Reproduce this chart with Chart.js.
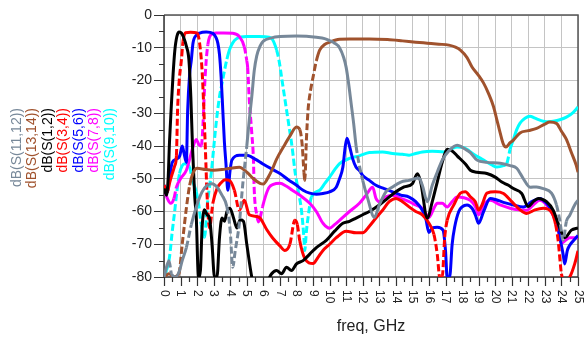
<!DOCTYPE html>
<html>
<head>
<meta charset="utf-8">
<script src="https://cdn.jsdelivr.net/npm/chart.js@4.4.1/dist/chart.umd.min.js"></script>
<style>
  body { margin: 0; background: #fff; }
  #wrap { width: 586px; height: 340px; position: relative; }
</style>
</head>
<body>
<div id="wrap"><canvas id="sparChart"></canvas></div>
<script>
// series names / colours, in legend order (left column first)
const seriesNames = ['dB(S(11,12))', 'dB(S(13,14))', 'dB(S(1,2))', 'dB(S(3,4))', 'dB(S(5,6))', 'dB(S(7,8))', 'dB(S(9,10))'];
const seriesColors = ['#778899', '#a0522d', '#000000', '#ff0000', '#0000ff', '#ff00ff', '#00ffff'];
// below which level (dB) a steep stretch is drawn dashed; null = never
const dashBelow = [-45, -12, null, -6, null, -12, -12];

const xTickLabels = ['0','1','2','3','4','5','6','7','8','9','10','11','12','13','14','15','16','17','18','19','20','21','22','23','24','25'];
const yTickValues = [0, -10, -20, -30, -40, -50, -60, -70, -80];

// [freq GHz, dB]
const s11_12 = [[0,-80],[0.15,-77],[0.3,-75],[0.45,-79],[0.7,-80],[0.94,-78],[1.1,-75],[1.35,-71],[1.65,-64],[1.95,-58.6],[2.3,-54],[2.6,-52],[2.9,-51.5],[3.2,-52.5],[3.5,-55],[3.8,-58.6],[4.0,-66],[4.15,-77],[4.3,-72],[4.55,-63.6],[4.75,-52],[5.0,-40],[5.15,-32],[5.3,-25],[5.45,-17],[5.6,-12.5],[5.8,-9.5],[6.0,-8],[6.5,-7],[7.0,-6.6],[8.0,-6.4],[8.6,-6.5],[9.2,-6.8],[9.7,-7.2],[10.0,-7.8],[10.3,-8.6],[10.6,-10],[10.85,-13],[11.0,-16],[11.15,-21],[11.3,-27],[11.45,-33],[11.6,-40],[11.8,-46],[12.0,-50.5],[12.3,-56],[12.7,-61.8],[13.0,-58],[13.4,-54],[13.8,-52.5],[14.3,-51],[14.8,-50.5],[15.4,-49.8],[15.6,-52],[15.9,-57],[16.2,-52],[16.5,-48],[16.8,-44.3],[17.2,-41.5],[17.7,-39.8],[18.2,-41],[18.5,-42],[18.9,-44.3],[19.5,-45],[20.3,-45.3],[20.9,-46],[21.3,-46.8],[21.7,-50],[22.1,-52.6],[22.5,-52.5],[22.9,-53],[23.4,-54.4],[23.7,-58],[23.9,-62.7],[24.1,-68.8],[24.3,-63],[24.5,-61.2],[24.8,-58],[25,-56.6]];

const s13_14 = [[0,-80],[0.3,-79],[0.6,-80],[0.9,-79],[1.1,-70],[1.36,-58.6],[1.55,-52],[1.75,-48.3],[2.0,-46.8],[2.5,-47.2],[3.0,-47.4],[3.5,-47.2],[4.0,-46.8],[4.55,-46.5],[5.0,-48],[5.4,-50],[5.8,-51.4],[6.0,-51.6],[6.3,-49.5],[6.55,-47],[6.8,-44],[7.2,-40.4],[7.6,-37],[8.0,-34.2],[8.2,-35],[8.35,-40],[8.45,-48],[8.5,-50.5],[8.6,-38],[8.7,-29],[8.85,-23],[9.0,-19],[9.2,-14],[9.4,-10.7],[9.7,-9],[10,-8.3],[10.6,-7.4],[11.2,-7.3],[12.4,-7.3],[13.5,-7.5],[14.4,-7.9],[15.2,-8.3],[15.9,-8.6],[16.6,-8.9],[17.2,-9.2],[17.6,-9.8],[17.9,-10.7],[18.3,-13],[18.6,-15.9],[19.0,-18.5],[19.3,-20.8],[19.6,-24],[19.9,-28],[20.1,-32],[20.3,-36],[20.5,-39.5],[20.65,-40.3],[20.9,-39],[21.1,-38.2],[21.5,-36],[22.0,-35.3],[22.5,-34.6],[23.0,-33.3],[23.3,-32.7],[23.7,-33.1],[24.0,-35.5],[24.3,-38],[24.6,-42],[24.9,-46],[25,-48]];

const s1_2 = [[0,-53],[0.15,-55],[0.25,-50],[0.33,-39],[0.45,-27],[0.55,-18],[0.65,-11],[0.78,-6.5],[0.92,-5.2],[1.05,-5.5],[1.2,-7],[1.35,-9.5],[1.5,-13.5],[1.62,-25],[1.72,-40],[1.85,-55],[1.95,-62],[2.08,-80],[2.2,-78],[2.3,-65],[2.45,-59.5],[2.6,-61],[2.75,-62],[2.9,-70],[3.05,-80],[3.2,-80],[3.35,-68],[3.5,-62],[3.65,-63],[3.8,-60],[3.98,-59],[4.2,-62],[4.4,-65],[4.6,-62.5],[4.8,-63],[5.0,-70],[5.3,-80],[5.6,-86],[6.0,-86],[6.3,-81],[6.5,-79],[6.8,-78],[7.1,-79],[7.4,-77],[7.7,-78],[8.0,-76],[8.4,-75],[8.8,-73],[9.2,-71],[9.8,-68.8],[10.3,-66],[10.8,-63.6],[11.2,-63],[11.6,-62],[12.0,-61],[12.4,-60],[13.0,-58],[13.5,-56],[14.0,-54],[14.5,-52.5],[15.0,-51.5],[15.3,-48.5],[15.5,-51],[15.9,-62],[16.2,-57],[16.5,-51],[16.8,-45],[17.1,-41],[17.4,-41.5],[17.7,-43],[18.2,-45.5],[18.5,-47.4],[18.9,-48],[19.5,-48.4],[20.0,-49.5],[20.4,-51],[20.8,-52],[21.1,-53],[21.6,-54.5],[22.0,-58.5],[22.3,-57],[22.6,-56],[23.1,-57],[23.5,-59.6],[23.9,-65],[24.2,-68],[24.6,-65.7],[25,-65]];

const s3_4 = [[0,-52],[0.2,-54],[0.35,-51],[0.5,-48.4],[0.65,-46],[0.75,-43],[0.82,-29],[0.92,-20],[1.05,-13.8],[1.15,-8],[1.3,-5.4],[1.6,-5.3],[2.0,-5.5],[2.15,-8.6],[2.3,-17],[2.4,-28],[2.5,-41],[2.6,-55],[2.75,-65],[2.95,-57.5],[3.2,-53],[3.45,-51.2],[3.7,-50.3],[3.95,-50.5],[4.25,-53.5],[4.55,-59.6],[4.85,-56.6],[5.15,-61],[5.6,-61.5],[5.8,-62],[6.2,-65.5],[6.55,-68],[7.0,-70.5],[7.3,-71.9],[7.6,-70],[7.9,-62.7],[8.05,-64],[8.2,-69],[8.5,-74.3],[9.0,-75.9],[9.3,-74],[9.6,-71.9],[10.0,-70],[10.4,-68],[11.0,-66],[11.6,-66.5],[12.0,-66.5],[12.4,-64.5],[12.8,-62],[13.2,-59.6],[13.6,-57],[14.0,-56],[14.4,-57],[14.8,-58.6],[15.2,-60],[15.6,-61],[16.0,-63.6],[16.3,-67],[16.5,-73],[16.65,-80],[16.8,-80],[16.95,-68],[17.1,-62.7],[17.5,-58],[17.9,-54.4],[18.2,-54],[18.5,-55.5],[18.8,-57],[19.0,-59.6],[19.2,-58],[19.5,-54.4],[20.0,-54],[20.5,-54.5],[21.0,-57],[21.5,-59.5],[21.9,-60.6],[22.4,-59.5],[22.9,-59],[23.4,-60.2],[23.65,-64],[23.8,-68.8],[24.0,-79],[24.2,-81],[24.5,-80],[24.8,-76],[25,-72]];

const s5_6 = [[0,-52],[0.2,-54],[0.35,-49],[0.5,-45],[0.75,-44],[0.95,-43],[1.1,-40],[1.2,-42],[1.35,-45],[1.43,-29],[1.55,-18],[1.65,-13.8],[1.75,-8.6],[1.95,-6.2],[2.15,-5.5],[2.55,-5.2],[2.95,-5.6],[3.15,-7],[3.25,-8.6],[3.35,-12],[3.45,-19],[3.55,-29],[3.65,-39],[3.75,-46],[3.85,-53.5],[4.0,-47],[4.1,-44.3],[4.55,-42.8],[5.0,-42.8],[5.5,-44],[5.95,-45.4],[6.5,-47],[7.0,-48.4],[7.5,-50.3],[8.0,-52],[8.4,-53.5],[8.8,-54.4],[9.2,-54.7],[9.6,-54.5],[10.0,-54],[10.4,-52.6],[10.6,-50],[10.8,-46.5],[10.95,-40],[11.05,-37.6],[11.2,-40],[11.4,-44],[11.6,-46.5],[11.8,-47.5],[12.0,-49],[12.4,-50.5],[12.8,-52],[13.3,-53],[13.8,-54],[14.3,-55],[14.8,-55.6],[15.2,-57],[15.6,-59.6],[15.8,-62],[16.0,-66.4],[16.2,-65],[16.5,-64.8],[16.85,-65.7],[17.0,-72],[17.1,-80],[17.25,-80],[17.4,-70],[17.55,-64.8],[17.8,-60],[18.0,-58.6],[18.3,-58],[18.6,-59],[18.8,-61],[19.0,-63.6],[19.3,-60],[19.7,-56],[20.1,-56.5],[20.5,-57.2],[21.1,-58],[21.7,-58.6],[22.2,-57],[22.7,-56],[23.1,-57.5],[23.4,-59.6],[23.7,-63],[23.9,-67.9],[24.1,-73],[24.2,-76],[24.35,-72],[24.5,-70.3],[24.8,-68.5],[25,-67.3]];

const s7_8 = [[0,-53],[0.2,-56],[0.4,-57.5],[0.6,-56],[0.75,-52.6],[1.0,-50],[1.35,-47.4],[1.55,-44],[1.75,-40.3],[1.95,-38],[2.1,-39.5],[2.25,-40],[2.35,-34],[2.45,-22],[2.55,-13.8],[2.65,-9],[2.75,-6.7],[2.95,-5.7],[3.15,-5.5],[3.6,-5.5],[4.15,-5.6],[4.55,-6.6],[4.85,-9.7],[5.0,-14],[5.05,-15.9],[5.15,-26],[5.3,-36],[5.4,-44],[5.45,-53.5],[5.6,-61],[5.7,-63.2],[5.8,-62],[5.95,-58.6],[6.15,-55],[6.35,-52.6],[6.6,-51.7],[7.0,-51.4],[7.4,-52.3],[7.75,-53.5],[8.2,-55],[8.8,-57.5],[9.2,-60],[9.6,-63.6],[10.0,-65.1],[10.3,-64],[10.6,-62.7],[11.2,-60],[11.8,-57.5],[12.2,-55],[12.6,-52.6],[12.8,-56],[13.0,-57],[13.4,-55.5],[13.8,-55],[14.3,-56],[14.8,-57],[15.2,-58],[15.6,-59],[16.0,-61.8],[16.3,-59],[16.5,-57.5],[16.8,-57.5],[17.1,-58.6],[17.4,-57],[17.7,-55.6],[18.1,-55.8],[18.5,-56.6],[18.8,-58.5],[19.0,-61],[19.3,-58],[19.7,-56.6],[20.3,-58],[20.9,-59],[21.4,-59.5],[21.9,-59.6],[22.3,-58],[22.7,-56.6],[23.1,-58],[23.5,-61.2],[23.8,-65],[24.0,-69.7],[24.2,-69],[24.5,-68],[25,-68]];

const s9_10 = [[0,-80],[0.15,-78],[0.33,-74],[0.5,-66],[0.63,-60.6],[0.8,-53],[0.94,-48.4],[1.1,-46],[1.25,-45.4],[1.54,-46.4],[1.72,-50.5],[1.95,-54],[2.1,-58],[2.25,-64],[2.45,-67.9],[2.6,-58.6],[2.85,-48.4],[3.05,-38],[3.15,-33],[3.35,-25],[3.5,-21],[3.65,-17],[3.8,-13.5],[3.95,-10.7],[4.15,-8.5],[4.4,-7.2],[5.0,-6.6],[5.75,-6.6],[6.35,-6.8],[6.55,-7.5],[6.8,-10.7],[6.95,-14],[7.1,-19],[7.25,-24],[7.4,-29],[7.55,-34],[7.7,-39],[7.8,-43],[7.9,-47.4],[8.1,-53.5],[8.3,-59.6],[8.45,-68],[8.5,-71.9],[8.6,-66],[8.7,-61.8],[8.9,-55.6],[9.4,-53.5],[9.7,-51.5],[10.0,-49.5],[10.3,-47.3],[10.6,-45.4],[11.2,-43.8],[11.8,-43],[12.4,-42],[13.2,-41.8],[13.8,-42.3],[14.4,-42.5],[14.8,-42.8],[15.2,-42.3],[15.6,-41.8],[16.2,-41.6],[16.9,-41.8],[17.3,-41],[17.7,-40.3],[18.1,-40.5],[18.7,-42.5],[19.3,-44.3],[19.8,-45.8],[20.1,-46.4],[20.5,-46],[20.7,-45.3],[20.9,-41],[21.1,-38],[21.3,-35],[21.5,-33],[21.8,-31.5],[22.1,-30.9],[22.4,-31.5],[22.7,-32.1],[23.1,-32.6],[23.5,-32.4],[23.9,-32],[24.3,-31.2],[24.7,-29.8],[25,-28.1]];

const seriesData = [s11_12, s13_14, s1_2, s3_4, s5_6, s7_8, s9_10];

const FONT = 'Arial, "Liberation Sans", sans-serif';

// steep stretches of some traces show up dashed in the original
function makeDash(limit) {
    return ctx => {
        const dx = Math.abs(ctx.p1.x - ctx.p0.x);
        const dy = Math.abs(ctx.p1.y - ctx.p0.y);
        const low = Math.min(ctx.p0.parsed.y, ctx.p1.parsed.y);
        return (dy > 10 && dy > 4 * dx && low < limit) ? [7, 3] : undefined;
    };
}

const datasets = seriesData.map((pts, i) => ({
    label: seriesNames[i],
    data: pts.map(p => ({ x: p[0], y: p[1] })),
    borderColor: seriesColors[i],
    backgroundColor: seriesColors[i],
    borderWidth: 3,
    pointRadius: 0,
    fill: false,
    order: i,
    cubicInterpolationMode: 'monotone',
    segment: dashBelow[i] === null ? {} : { borderDash: makeDash(dashBelow[i]) }
}));

const axesPlugin = {
    id: 'adsAxes',
    beforeDatasetsDraw(chart) {
        const { ctx, chartArea: a } = chart;
        ctx.save();
        ctx.strokeStyle = '#555';
        ctx.lineWidth = 1.5;
        ctx.beginPath();
        ctx.moveTo(a.left, a.top);
        ctx.lineTo(a.right, a.top);
        ctx.lineTo(a.right, a.bottom);
        ctx.stroke();
        ctx.strokeStyle = '#333';
        ctx.beginPath();
        ctx.moveTo(a.left, a.top);
        ctx.lineTo(a.left, a.bottom);
        ctx.lineTo(a.right, a.bottom);
        ctx.stroke();
        ctx.restore();
    },
    afterDraw(chart) {
        const { ctx, chartArea: a, scales } = chart;
        const xs = scales.x, ys = scales.y;
        ctx.save();
        ctx.strokeStyle = '#333';
        ctx.lineWidth = 1.2;
        ctx.beginPath();
        // minor y ticks
        for (let v = -5; v > -80; v -= 10) {
            const py = Math.round(ys.getPixelForValue(v)) + 0.5;
            ctx.moveTo(a.left - 5, py);
            ctx.lineTo(a.left, py);
        }
        // x ticks, major every GHz and minor at the half
        for (let i = 0; i < xTickLabels.length; i++) {
            const px = Math.round(xs.getPixelForValue(i)) + 0.5;
            ctx.moveTo(px, a.bottom);
            ctx.lineTo(px, a.bottom + 9);
            if (i < xTickLabels.length - 1) {
                const pm = Math.round(xs.getPixelForValue(i + 0.5)) + 0.5;
                ctx.moveTo(pm, a.bottom);
                ctx.lineTo(pm, a.bottom + 5);
            }
        }
        ctx.stroke();

        // x tick labels, turned clockwise
        ctx.fillStyle = '#222';
        ctx.font = '12px ' + FONT;
        ctx.textAlign = 'left';
        ctx.textBaseline = 'middle';
        xTickLabels.forEach((lab, i) => {
            const px = xs.getPixelForValue(i);
            ctx.save();
            ctx.translate(px, a.bottom + 13);
            ctx.rotate(Math.PI / 2);
            ctx.fillText(lab, 0, 0);
            ctx.restore();
        });

        // axis title
        ctx.font = '16px ' + FONT;
        ctx.textAlign = 'center';
        ctx.fillText('freq, GHz', (a.left + a.right) / 2, 327);

        // legend, vertical columns on the left
        ctx.font = '14px ' + FONT;
        ctx.textAlign = 'right';
        seriesNames.forEach((name, i) => {
            ctx.save();
            ctx.translate(17 + i * 15.5, 108);
            ctx.rotate(-Math.PI / 2);
            ctx.fillStyle = seriesColors[i];
            ctx.fillText(name, 0, 0);
            ctx.restore();
        });
        ctx.restore();
    }
};

new Chart(document.getElementById('sparChart'), {
    type: 'line',
    data: { datasets: datasets },
    options: {
        responsive: true,
        maintainAspectRatio: false,
        animation: false,
        layout: { padding: { left: 0, right: 8, top: 15, bottom: 0 } },
        plugins: {
            legend: { display: false },
            tooltip: { enabled: false }
        },
        scales: {
            x: {
                type: 'linear',
                min: 0,
                max: 25,
                ticks: { stepSize: 1, display: false },
                grid: { color: '#c4c4c4', lineWidth: 1, drawTicks: false },
                border: { display: false },
                afterFit: s => { s.height = 63; }
            },
            y: {
                min: -80,
                max: 0,
                afterBuildTicks: s => { s.ticks = yTickValues.map(v => ({ value: v })); },
                ticks: {
                    color: '#222',
                    padding: 2,
                    font: { family: FONT, size: 14 }
                },
                grid: { color: '#c4c4c4', lineWidth: 1, tickLength: 10, tickColor: '#333' },
                border: { display: false },
                afterFit: s => { s.width = 164; }
            }
        }
    },
    plugins: [axesPlugin]
});
</script>
</body>
</html>
